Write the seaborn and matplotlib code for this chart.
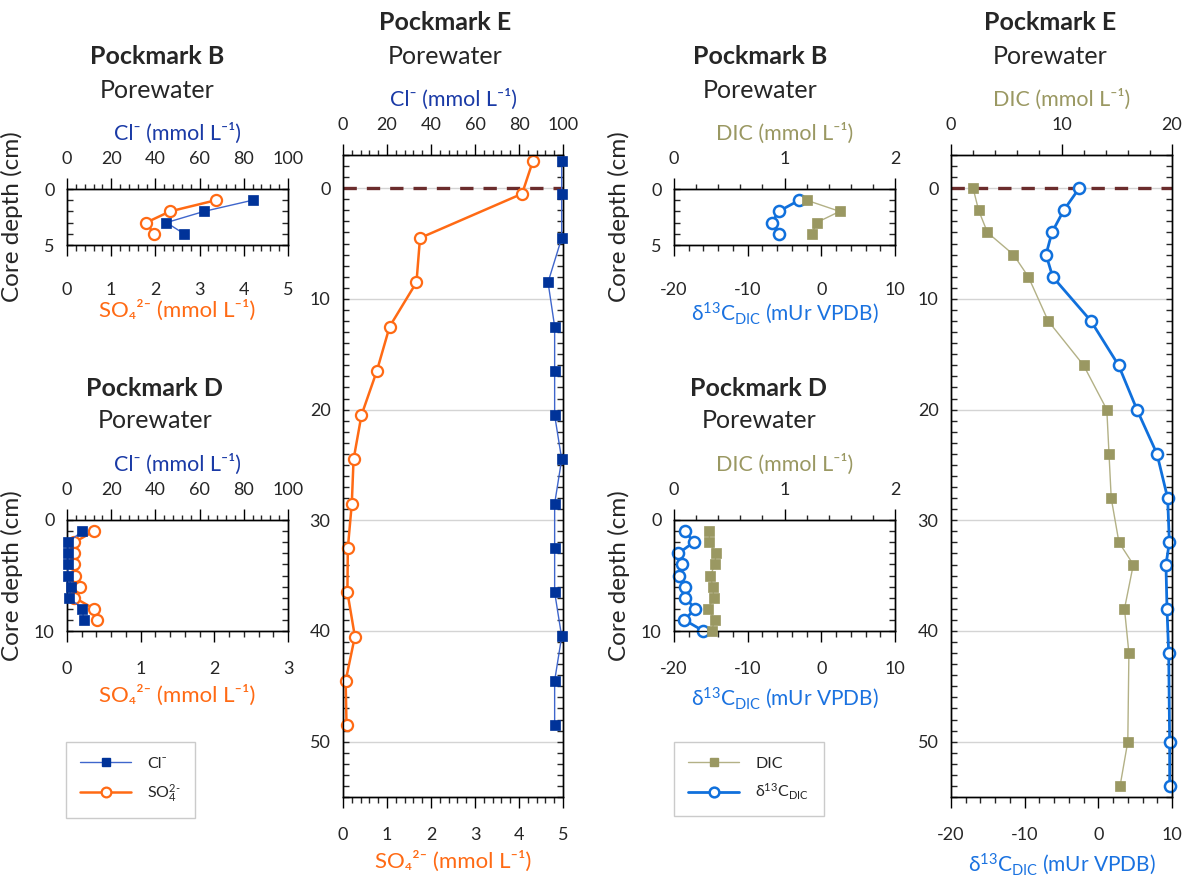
import matplotlib
matplotlib.use("Agg")
import matplotlib.pyplot as plt
import seaborn as sns
from matplotlib.ticker import MultipleLocator
from matplotlib.lines import Line2D

# ---------------- data ----------------
depth_B = [1, 2, 3, 4]
cl_B = [84, 62, 45, 53]
so4_B = [3.37, 2.33, 1.79, 1.97]

depth_D = [1, 2, 3, 4, 5, 6, 7, 8, 9]
cl_D = [7.0, 0.5, 0.5, 0.5, 0.5, 2.0, 0.9, 7.0, 7.5]
so4_D = [0.37, 0.10, 0.10, 0.10, 0.11, 0.17, 0.10, 0.37, 0.41]

depth_E_pw = [-2.5, 0.5, 4.5, 8.5, 12.5, 16.5, 20.5, 24.5, 28.5, 32.5, 36.5, 40.5, 44.5, 48.5]
cl_E = [99.4, 99.4, 99.4, 93.2, 96.2, 96.2, 96.2, 99.4, 96.2, 96.2, 96.2, 99.4, 96.2, 96.2]
so4_E = [4.32, 4.07, 1.75, 1.67, 1.06, 0.77, 0.42, 0.24, 0.20, 0.11, 0.10, 0.27, 0.06, 0.08]

depth_B_dic = [1, 2, 3, 4]
dic_B = [1.20, 1.50, 1.29, 1.25]
d13c_B = [-3.0, -5.8, -6.7, -5.8]

depth_D_dic = [1, 2, 3, 4, 5, 6, 7, 8, 9, 10]
dic_D = [0.32, 0.32, 0.38, 0.37, 0.33, 0.35, 0.36, 0.31, 0.37, 0.34]
d13c_D = [-18.5, -17.3, -19.4, -18.9, -19.3, -18.5, -18.5, -17.1, -18.6, -16.0]

depth_E_dic = [0, 2, 4, 6, 8, 12, 16, 20, 24, 28, 32, 34, 38, 42, 50, 54]
dic_E = [2.0, 2.5, 3.3, 5.65, 7.0, 8.8, 12.0, 14.1, 14.3, 14.5, 15.2, 16.5, 15.7, 16.1, 16.0, 15.3]
d13c_E = [-2.6, -4.7, -6.3, -7.1, -6.2, -1.0, 2.75, 5.24, 7.96, 9.41, 9.64, 9.18, 9.32, 9.55, 9.68, 9.68]

# ---------------- style ----------------
sns.set_style("ticks")
plt.rcParams["font.family"] = ["Lato", "DejaVu Sans"]
plt.rcParams["mathtext.fontset"] = "custom"
plt.rcParams["mathtext.rm"] = "Lato"
plt.rcParams["mathtext.it"] = "Lato:italic"
plt.rcParams["mathtext.bf"] = "Lato:bold"
plt.rcParams["mathtext.default"] = "regular"
plt.rcParams["axes.unicode_minus"] = False

C_CL_M = "#003399"
C_CL_L = "#3f66cc"
C_SO4 = "#ff6a14"
C_DIC_M = "#9a9862"
C_DIC_L = "#b3b186"
C_D13 = "#1070dc"
C_CL_T = "#1a3aa6"
C_D13_T = "#1a72e0"
C_DASH = "#6b2c2c"

W, H = 1184, 875
fig = plt.figure(figsize=(W / 100, H / 100), dpi=100)


def rect(x0, x1, y0, y1):
    return [x0 / W, 1 - y1 / H, (x1 - x0) / W, (y1 - y0) / H]


TICK_FS = 13


def make_panel(r, xlim_b, xlim_t, maj_b, min_b, maj_t, min_t, ylim, ymaj,
               grid=False, bpad=13.5):
    ax = fig.add_axes(r)
    top = ax.twiny()
    ax.xaxis.tick_bottom()
    ax.set_xlim(*xlim_b)
    top.set_xlim(*xlim_t)
    ax.set_ylim(ylim[1], ylim[0])
    ax.xaxis.set_major_locator(MultipleLocator(maj_b))
    ax.xaxis.set_minor_locator(MultipleLocator(min_b))
    top.xaxis.set_major_locator(MultipleLocator(maj_t))
    top.xaxis.set_minor_locator(MultipleLocator(min_t))
    ax.yaxis.set_major_locator(MultipleLocator(ymaj))
    ax.yaxis.set_minor_locator(MultipleLocator(1))
    ax.tick_params(axis="x", which="major", direction="out", length=8, width=1,
                   labelsize=TICK_FS, pad=bpad, color="black")
    ax.tick_params(axis="x", which="minor", direction="out", length=4.5, width=1)
    top.tick_params(axis="x", which="major", direction="out", length=8, width=1,
                    labelsize=TICK_FS, pad=8, color="black")
    top.tick_params(axis="x", which="minor", direction="out", length=3.5, width=1)
    ax.tick_params(axis="y", which="both", direction="in", left=True, right=True,
                   length=4.5, width=1, labelsize=TICK_FS, pad=9)
    for a in (ax, top):
        for s in a.spines.values():
            s.set_color("black")
            s.set_linewidth(1)
    if grid:
        ax.set_axisbelow(True)
        ax.yaxis.grid(True, which="major", color="#d4d4d4", linewidth=1)
    return ax, top


def line(ax, x, y, kind):
    if kind == "cl":
        kw = dict(color=C_CL_L, linewidth=1.0, marker="s", markersize=6.5,
                  markerfacecolor=C_CL_M, markeredgecolor=C_CL_M, markeredgewidth=0.5)
    elif kind == "so4":
        kw = dict(color=C_SO4, linewidth=1.8, marker="o", markersize=8,
                  markerfacecolor="white", markeredgecolor=C_SO4, markeredgewidth=1.6)
    elif kind == "dic":
        kw = dict(color=C_DIC_L, linewidth=1.0, marker="s", markersize=6.5,
                  markerfacecolor=C_DIC_M, markeredgecolor=C_DIC_M, markeredgewidth=0.5)
    else:
        kw = dict(color=C_D13, linewidth=2.0, marker="o", markersize=8,
                  markerfacecolor="white", markeredgecolor=C_D13, markeredgewidth=1.8)
    sns.lineplot(x=x, y=y, ax=ax, sort=False, orient="y", estimator=None,
                 clip_on=False, zorder=3, **kw)


cl_lab = "Cl⁻ (mmol L⁻¹)"
so4_lab = "SO₄²⁻ (mmol L⁻¹)"
dic_lab = "DIC (mmol L⁻¹)"
d13_lab = "δ$^{13}$C$_{DIC}$ (mUr VPDB)"


def labels(ax, top, blab, bcol, tlab, tcol, ylabel=True, blp=6, bfs=16):
    ax.set_xlabel(blab, color=bcol, fontsize=bfs, labelpad=blp)
    top.set_xlabel(tlab, color=tcol, fontsize=15.5, labelpad=8)
    if ylabel:
        ax.set_ylabel("Core depth (cm)", fontsize=17.5)
        ax.yaxis.set_label_coords(-0.2, 0.5)
    else:
        ax.set_ylabel("")


def title(xc, yt, name):
    fig.text(xc / W, 1 - yt / H, "Pockmark " + name, ha="center", va="center",
             fontsize=18, fontweight="bold")
    fig.text(xc / W, 1 - (yt + 33) / H, "Porewater", ha="center", va="center", fontsize=18)


# ---- Pockmark B porewater ----
ax, top = make_panel(rect(67, 288, 189, 245), (0, 5), (0, 100), 1, 0.2, 20, 4, (0, 5), 5, bpad=18.5)
line(ax, so4_B, depth_B, "so4")
line(top, cl_B, depth_B, "cl")
labels(ax, top, so4_lab, C_SO4, cl_lab, C_CL_T, blp=1.5)
title(157, 57, "B")

# ---- Pockmark D porewater ----
ax, top = make_panel(rect(67, 288, 520, 631), (0, 3), (0, 100), 1, 0.2, 20, 4, (0, 10), 10)
line(ax, so4_D, depth_D, "so4")
line(top, cl_D, depth_D, "cl")
labels(ax, top, so4_lab, C_SO4, cl_lab, C_CL_T)
title(155, 388, "D")

# ---- Pockmark E porewater ----
ax, top = make_panel(rect(343, 563, 155, 797), (0, 5), (0, 100), 1, 0.2, 20, 4, (-3, 55), 10, grid=True)
ax.axhline(0, color=C_DASH, linewidth=2.4, dashes=(4, 3), zorder=1.5)
line(ax, so4_E, depth_E_pw, "so4")
line(top, cl_E, depth_E_pw, "cl")
labels(ax, top, so4_lab, C_SO4, cl_lab, C_CL_T, ylabel=False)
title(445, 23, "E")

# ---- Pockmark B DIC ----
ax, top = make_panel(rect(674, 895, 189, 245), (-20, 10), (0, 2), 10, 2, 1, 0.2, (0, 5), 5, bpad=18.5)
line(top, dic_B, depth_B_dic, "dic")
line(ax, d13c_B, depth_B_dic, "d13")
labels(ax, top, d13_lab, C_D13_T, dic_lab, C_DIC_M, blp=1.5, bfs=15)
title(760, 57, "B")

# ---- Pockmark D DIC ----
ax, top = make_panel(rect(674, 895, 520, 631), (-20, 10), (0, 2), 10, 2, 1, 0.2, (0, 10), 10)
line(top, dic_D, depth_D_dic, "dic")
line(ax, d13c_D, depth_D_dic, "d13")
labels(ax, top, d13_lab, C_D13_T, dic_lab, C_DIC_M, bfs=15)
title(759, 388, "D")

# ---- Pockmark E DIC ----
ax, top = make_panel(rect(951, 1172, 155, 797), (-20, 10), (0, 20), 10, 2, 10, 2, (-3, 55), 10, grid=True)
ax.axhline(0, color=C_DASH, linewidth=2.4, dashes=(4, 3), zorder=1.5)
line(top, dic_E, depth_E_dic, "dic")
line(ax, d13c_E, depth_E_dic, "d13")
labels(ax, top, d13_lab, C_D13_T, dic_lab, C_DIC_M, ylabel=False, bfs=15)
title(1050, 23, "E")

# ---- legends ----
h_cl = Line2D([], [], color=C_CL_L, linewidth=1.0, marker="s", markersize=6,
              markerfacecolor=C_CL_M, markeredgecolor=C_CL_M)
h_so4 = Line2D([], [], color=C_SO4, linewidth=1.8, marker="o", markersize=7,
               markerfacecolor="white", markeredgecolor=C_SO4, markeredgewidth=1.6)
h_dic = Line2D([], [], color=C_DIC_L, linewidth=1.0, marker="s", markersize=6,
               markerfacecolor=C_DIC_M, markeredgecolor=C_DIC_M)
h_d13 = Line2D([], [], color=C_D13, linewidth=2.0, marker="o", markersize=7,
               markerfacecolor="white", markeredgecolor=C_D13, markeredgewidth=1.8)

leg_kw = dict(loc="upper left", frameon=True, fancybox=False, fontsize=11.5,
              handlelength=3.2, borderpad=0.9, labelspacing=0.7, handletextpad=1.0,
              borderaxespad=0)
l1 = fig.legend([h_cl, h_so4], ["Cl⁻", "SO$_4^{2\u2010}$"],
                bbox_to_anchor=(66 / W, 1 - 742 / H), **leg_kw)
l2 = fig.legend([h_dic, h_d13], ["DIC", "δ$^{13}$C$_{DIC}$"],
                bbox_to_anchor=(674 / W, 1 - 742 / H), **leg_kw)
for lg in (l1, l2):
    lg.get_frame().set_edgecolor("#bfbfbf")
    lg.get_frame().set_linewidth(1)

fig.savefig("out.png", dpi=100)
